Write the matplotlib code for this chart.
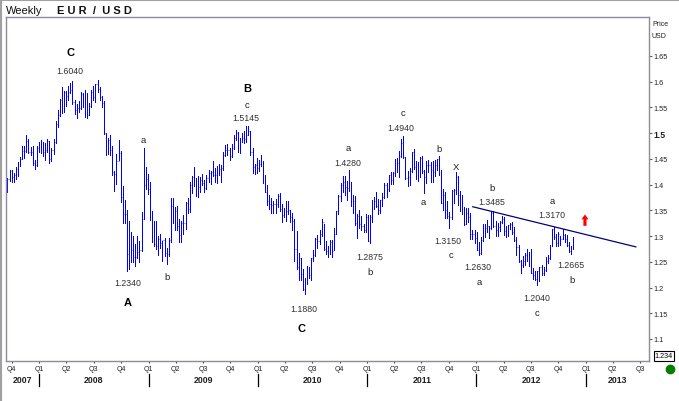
import numpy as np
import pandas as pd
import matplotlib
matplotlib.use('Agg')
import matplotlib.pyplot as plt
import matplotlib.dates as mdates
import matplotlib.transforms as mtransforms
from matplotlib.lines import Line2D

plt.rcParams['font.family'] = ['Liberation Sans', 'DejaVu Sans']

# ---------- weekly EUR/USD bars (week of 17 Sep 2007 .. week of 19 Nov 2012) ----------
first_open = 1.3880

highs = [
    # 2007
    1.4130, 1.4280, 1.4280, 1.4230, 1.4350, 1.4440, 1.4530, 1.4750, 1.4750, 1.4967, 1.4880, 1.4740, 1.4760, 1.4480, 1.4750,
    # 2008
    1.4830, 1.4860, 1.4820, 1.4800, 1.4880, 1.4840, 1.4720, 1.4880, 1.5240, 1.5460,
    1.5670, 1.5900, 1.5820, 1.5820, 1.5910, 1.5980, 1.6018, 1.5650, 1.5560, 1.5620,
    1.5800, 1.5780, 1.5840, 1.5780, 1.5590, 1.5830, 1.5910, 1.5960, 1.6038, 1.5900,
    1.5720, 1.5620, 1.5000, 1.4900, 1.4960, 1.4760, 1.4270, 1.4590, 1.4870, 1.4650,
    1.3980, 1.3700, 1.3500, 1.3300, 1.3080, 1.3000, 1.2850, 1.3000, 1.2900, 1.3460,
    1.4719, 1.4340,
    # 2009
    1.4200, 1.4060, 1.3480, 1.3300, 1.3300, 1.3000, 1.3050, 1.2900, 1.2970, 1.2770,
    1.2960, 1.3740, 1.3740, 1.3570, 1.3580, 1.3340, 1.3290, 1.3410, 1.3660, 1.3740,
    1.4050, 1.4170, 1.4340, 1.4130, 1.4170, 1.4150, 1.4200, 1.4090, 1.4180, 1.4290,
    1.4260, 1.4450, 1.4330, 1.4360, 1.4410, 1.4390, 1.4630, 1.4770, 1.4790, 1.4720,
    1.4790, 1.4960, 1.5060, 1.5030, 1.4900, 1.5010, 1.5040, 1.5145, 1.5140, 1.5050,
    1.4720, 1.4410,
    # 2010
    1.4510, 1.4480, 1.4580, 1.4450, 1.4180, 1.4000, 1.3800, 1.3740, 1.3690, 1.3720,
    1.3810, 1.3830, 1.3620, 1.3550, 1.3690, 1.3680, 1.3510, 1.3450, 1.3330, 1.3090,
    1.2670, 1.2580, 1.2360, 1.2190, 1.2410, 1.2390, 1.2580, 1.2720, 1.2970, 1.3030,
    1.3110, 1.3330, 1.3230, 1.2900, 1.2800, 1.2920, 1.2920, 1.3160, 1.3490, 1.3790,
    1.4030, 1.4160, 1.4160, 1.4070, 1.4282, 1.4060, 1.3790, 1.3770, 1.3430, 1.3510,
    1.3390, 1.3230, 1.3430,
    # 2011
    1.3400, 1.3400, 1.3700, 1.3760, 1.3860, 1.3720, 1.3700, 1.3830, 1.4030, 1.4040,
    1.4190, 1.4250, 1.4250, 1.4490, 1.4520, 1.4650, 1.4880, 1.4940, 1.4530, 1.4260,
    1.4320, 1.4640, 1.4700, 1.4450, 1.4440, 1.4530, 1.4560, 1.4280, 1.4450, 1.4470,
    1.4440, 1.4450, 1.4480, 1.4490, 1.4550, 1.4280, 1.3910, 1.3850, 1.3680, 1.3460,
    1.3890, 1.3910, 1.4247, 1.4160, 1.3880, 1.3790, 1.3560, 1.3550, 1.3550, 1.3440,
    1.3120, 1.3120,
    # 2012
    1.3080, 1.2880, 1.2990, 1.3230, 1.3230, 1.3320, 1.3190, 1.3460, 1.3486, 1.3290,
    1.3260, 1.3300, 1.3390, 1.3380, 1.3200, 1.3220, 1.3260, 1.3280, 1.3170, 1.2990,
    1.2820, 1.2530, 1.2620, 1.2670, 1.2740, 1.2690, 1.2750, 1.2370, 1.2330, 1.2330,
    1.2400, 1.2440, 1.2390, 1.2590, 1.2640, 1.2820, 1.3130, 1.3170, 1.3050, 1.3070,
    1.3010, 1.3140, 1.3050, 1.3020, 1.2890, 1.2800, 1.2980,
]

lows = [
    # 2007
    1.3850, 1.4070, 1.4050, 1.4050, 1.4100, 1.4160, 1.4370, 1.4490, 1.4520, 1.4630, 1.4620, 1.4580, 1.4380, 1.4310, 1.4370,
    # 2008
    1.4640, 1.4620, 1.4560, 1.4480, 1.4640, 1.4430, 1.4460, 1.4600, 1.4800, 1.5120,
    1.5330, 1.5400, 1.5420, 1.5530, 1.5650, 1.5790, 1.5570, 1.5370, 1.5290, 1.5420,
    1.5470, 1.5500, 1.5310, 1.5290, 1.5350, 1.5510, 1.5650, 1.5610, 1.5810, 1.5640,
    1.5500, 1.4980, 1.4580, 1.4600, 1.4580, 1.4190, 1.3880, 1.4010, 1.4480, 1.3670,
    1.3260, 1.3260, 1.2330, 1.2360, 1.2500, 1.2500, 1.2420, 1.2570, 1.2500, 1.2710,
    1.3330, 1.3920,
    # 2009
    1.3820, 1.3320, 1.2880, 1.2810, 1.2750, 1.2630, 1.2760, 1.2510, 1.2620, 1.2460,
    1.2620, 1.2890, 1.3250, 1.3110, 1.3120, 1.2890, 1.2890, 1.3050, 1.3140, 1.3440,
    1.3470, 1.3830, 1.3970, 1.3780, 1.3750, 1.3850, 1.3990, 1.3850, 1.3910, 1.4050,
    1.4010, 1.4160, 1.4050, 1.4040, 1.4190, 1.4060, 1.4280, 1.4550, 1.4580, 1.4480,
    1.4530, 1.4690, 1.4870, 1.4630, 1.4620, 1.4830, 1.4810, 1.4830, 1.4960, 1.4580,
    1.4230, 1.4210,
    # 2010
    1.4220, 1.4260, 1.4370, 1.4030, 1.3850, 1.3600, 1.3530, 1.3440, 1.3440, 1.3440,
    1.3560, 1.3490, 1.3270, 1.3380, 1.3300, 1.3420, 1.3280, 1.3110, 1.2520, 1.2360,
    1.2140, 1.2140, 1.1960, 1.1876, 1.2070, 1.2180, 1.2150, 1.2510, 1.2620, 1.2760,
    1.2840, 1.3010, 1.2730, 1.2660, 1.2590, 1.2660, 1.2590, 1.2720, 1.3040, 1.3420,
    1.3680, 1.3860, 1.3800, 1.3700, 1.3880, 1.3580, 1.3450, 1.3220, 1.2970, 1.3160,
    1.3120, 1.3070, 1.3070,
    # 2011
    1.2900, 1.2873, 1.3270, 1.3530, 1.3560, 1.3430, 1.3450, 1.3580, 1.3740, 1.3750,
    1.3870, 1.4010, 1.4020, 1.4160, 1.4250, 1.4150, 1.4540, 1.4520, 1.4110, 1.3970,
    1.4000, 1.4240, 1.4300, 1.4100, 1.4070, 1.4150, 1.4220, 1.3840, 1.4030, 1.4240,
    1.4050, 1.4050, 1.4170, 1.4280, 1.4180, 1.3650, 1.3500, 1.3360, 1.3360, 1.3150,
    1.3330, 1.3650, 1.3820, 1.3610, 1.3480, 1.3420, 1.3210, 1.3230, 1.3270, 1.2950,
    1.2950, 1.2860,
    # 2012
    1.2720, 1.2624, 1.2660, 1.2900, 1.2980, 1.3080, 1.2970, 1.3140, 1.3180, 1.3000,
    1.3000, 1.3100, 1.3260, 1.3030, 1.2990, 1.3010, 1.3130, 1.3040, 1.2900, 1.2640,
    1.2500, 1.2290, 1.2390, 1.2440, 1.2510, 1.2410, 1.2290, 1.2160, 1.2140, 1.2042,
    1.2130, 1.2240, 1.2240, 1.2330, 1.2470, 1.2560, 1.2810, 1.2950, 1.2800, 1.2800,
    1.2820, 1.2940, 1.2880, 1.2800, 1.2690, 1.2661, 1.2740,
]

closes = [
    # 2007
    1.4100, 1.4260, 1.4140, 1.4180, 1.4300, 1.4410, 1.4500, 1.4650, 1.4650, 1.4850, 1.4630, 1.4640, 1.4420, 1.4380, 1.4720,
    # 2008
    1.4750, 1.4760, 1.4630, 1.4680, 1.4840, 1.4500, 1.4670, 1.4830, 1.5180, 1.5350,
    1.5650, 1.5430, 1.5800, 1.5720, 1.5800, 1.5830, 1.5600, 1.5460, 1.5480, 1.5490,
    1.5760, 1.5550, 1.5760, 1.5360, 1.5530, 1.5800, 1.5700, 1.5950, 1.5860, 1.5700,
    1.5580, 1.5000, 1.4680, 1.4860, 1.4680, 1.4250, 1.4200, 1.4450, 1.4620, 1.3760,
    1.3420, 1.3430, 1.2650, 1.2750, 1.2730, 1.2600, 1.2590, 1.2700, 1.2720, 1.3330,
    1.3990, 1.4100,
    # 2009
    1.3920, 1.3440, 1.3210, 1.2840, 1.2800, 1.2950, 1.2860, 1.2920, 1.2670, 1.2650,
    1.2920, 1.3590, 1.3280, 1.3480, 1.3200, 1.3030, 1.3260, 1.3260, 1.3640, 1.3530,
    1.4000, 1.4150, 1.3970, 1.4000, 1.3960, 1.4090, 1.4030, 1.3940, 1.4120, 1.4220,
    1.4240, 1.4180, 1.4190, 1.4330, 1.4310, 1.4320, 1.4580, 1.4680, 1.4680, 1.4550,
    1.4710, 1.4900, 1.5000, 1.4720, 1.4860, 1.4900, 1.4880, 1.4970, 1.5050, 1.4630,
    1.4340, 1.4380,
    # 2010
    1.4330, 1.4410, 1.4380, 1.4130, 1.3860, 1.3680, 1.3620, 1.3600, 1.3630, 1.3620,
    1.3770, 1.3530, 1.3410, 1.3470, 1.3480, 1.3500, 1.3380, 1.3300, 1.2750, 1.2390,
    1.2570, 1.2270, 1.1970, 1.2130, 1.2390, 1.2240, 1.2570, 1.2640, 1.2940, 1.2900,
    1.3050, 1.3280, 1.2750, 1.2710, 1.2750, 1.2890, 1.2710, 1.3050, 1.3480, 1.3780,
    1.4000, 1.4060, 1.3960, 1.3940, 1.4040, 1.3690, 1.3680, 1.3250, 1.3390, 1.3230,
    1.3190, 1.3120, 1.3380,
    # 2011
    1.2910, 1.3380, 1.3620, 1.3690, 1.3580, 1.3510, 1.3700, 1.3750, 1.3990, 1.3910,
    1.4180, 1.4090, 1.4230, 1.4480, 1.4430, 1.4560, 1.4810, 1.4530, 1.4130, 1.4150,
    1.4270, 1.4630, 1.4350, 1.4310, 1.4200, 1.4520, 1.4260, 1.4150, 1.4390, 1.4390,
    1.4280, 1.4240, 1.4390, 1.4490, 1.4210, 1.3650, 1.3790, 1.3500, 1.3390, 1.3370,
    1.3880, 1.3900, 1.4150, 1.3790, 1.3750, 1.3520, 1.3240, 1.3450, 1.3380, 1.3040,
    1.3050, 1.2960,
    # 2012
    1.2720, 1.2680, 1.2930, 1.3210, 1.3160, 1.3190, 1.3150, 1.3450, 1.3200, 1.3120,
    1.3180, 1.3270, 1.3340, 1.3100, 1.3070, 1.3220, 1.3240, 1.3080, 1.2920, 1.2780,
    1.2510, 1.2430, 1.2520, 1.2640, 1.2570, 1.2660, 1.2290, 1.2240, 1.2160, 1.2320,
    1.2390, 1.2290, 1.2340, 1.2510, 1.2580, 1.2820, 1.3130, 1.2980, 1.2860, 1.3040,
    1.2950, 1.3020, 1.2940, 1.2830, 1.2710, 1.2740, 1.2970,
]

# resistance line
trend_dates = ['2011-12-20', '2013-06-17']
trend_prices = [1.357, 1.279]

# wave counts
wave_texts = ['C', '1.6040', 'a', '1.2340', 'A', 'b', 'B', 'c', '1.5145', '1.1880', 'C',
              'a', '1.4280', '1.2875', 'b', 'c', '1.4940', 'a', 'b', 'X', '1.3150', 'c',
              'b', '1.3485', '1.2630', 'a', '1.2040', 'c', 'a', '1.3170', '1.2665', 'b']
wave_dates = ['2008-04-15', '2008-04-12', '2008-12-13', '2008-10-24', '2008-10-24', '2009-03-04',
              '2009-11-25', '2009-11-24', '2009-11-22', '2010-06-04', '2010-05-28',
              '2010-10-29', '2010-10-27', '2011-01-11', '2011-01-11', '2011-05-01', '2011-04-22',
              '2011-07-09', '2011-08-29', '2011-10-25', '2011-09-28', '2011-10-08',
              '2012-02-22', '2012-02-20', '2012-01-07', '2012-01-09', '2012-07-20', '2012-07-22',
              '2012-09-10', '2012-09-10', '2012-11-13', '2012-11-16']
wave_prices = [1.658, 1.621, 1.488, 1.209, 1.171, 1.222, 1.588, 1.556, 1.531, 1.160, 1.121,
               1.472, 1.443, 1.261, 1.232, 1.541, 1.511, 1.367, 1.470, 1.435, 1.291, 1.265,
               1.394, 1.367, 1.240, 1.211, 1.181, 1.152, 1.369, 1.341, 1.244, 1.216]

signal_date = '2012-12-29'
signal_prices = [1.320, 1.342]

price_ticks = [1.1, 1.15, 1.2, 1.25, 1.3, 1.35, 1.4, 1.45, 1.5, 1.55, 1.6, 1.65]
price_labels = ['1.1', '1.15', '1.2', '1.25', '1.3', '1.35', '1.4', '1.45', '1.5', '1.55', '1.6', '1.65']
years = [2007, 2008, 2009, 2010, 2011, 2012, 2013]

W, H = 679, 402
fig = plt.figure(figsize=(W / 100, H / 100), dpi=100)
fig.patch.set_facecolor('white')
ax = fig.add_axes([6 / W, 40 / H, 643 / W, 344 / H])

x0 = mdates.date2num(pd.Timestamp('2007-09-12'))
x1 = mdates.date2num(pd.Timestamp('2013-07-31'))
ax.set_xlim(x0, x1)
ax.set_ylim(1.0572, 1.7258)

# OHLC bars
weeks = pd.date_range('2007-09-17', periods=len(closes), freq='7D')
x = mdates.date2num(weeks)
opens = [first_open] + closes[:-1]
bar_col = '#0000ff'
ax.vlines(x, lows, highs, color=bar_col, lw=0.68, antialiased=False)
ax.hlines(opens, x - 1.6, x, color=bar_col, lw=0.7, alpha=0.7)
ax.hlines(closes, x, x + 1.6, color=bar_col, lw=0.7, alpha=0.7)

# trend line
ax.plot(mdates.date2num(pd.to_datetime(trend_dates)), trend_prices, color='#000080', lw=0.9)

# wave labels
for t, d, p in zip(wave_texts, wave_dates, wave_prices):
    xd = mdates.date2num(pd.Timestamp(d))
    if t in ('A', 'B', 'C'):
        ax.text(xd, p, t, ha='center', va='center', fontsize=8, fontweight='bold', color='black')
    elif len(t) == 1:
        ax.text(xd, p, t, ha='center', va='center', fontsize=6.8, color='#202020')
    else:
        ax.text(xd, p, t, ha='center', va='center', fontsize=6.3, color='#303030')

# red up arrow
xs = mdates.date2num(pd.Timestamp(signal_date))
ax.annotate('', xy=(xs, signal_prices[1]), xytext=(xs, signal_prices[0]),
            arrowprops=dict(arrowstyle='simple,head_width=1.0,head_length=0.7,tail_width=0.45',
                            color='red', lw=0, mutation_scale=5, shrinkA=0, shrinkB=0))

# frame
for s in ax.spines.values():
    s.set_color('#8c8ca0')
    s.set_linewidth(1.0)

# right price axis
ax.yaxis.tick_right()
ax.set_yticks(price_ticks)
ax.set_yticklabels(price_labels)
ax.tick_params(axis='y', direction='out', length=2.5, width=0.8, color='#606060',
               labelsize=5.2, pad=1, labelcolor='#202020')
for lab in ax.get_yticklabels():
    if lab.get_text() == '1.5':
        lab.set_fontweight('bold')
        lab.set_fontsize(6.2)

# quarters
q_dates = pd.date_range('2007-10-01', '2013-07-01', freq='QS')
ax.set_xticks(mdates.date2num(q_dates))
ax.set_xticklabels(['Q%d' % d.quarter for d in q_dates])
ax.tick_params(axis='x', direction='out', length=1.5, width=0.8, color='#404040',
               labelsize=5, pad=1.5, labelcolor='#202020')

# years row
trans = mtransforms.blended_transform_factory(ax.transData, ax.transAxes)
for yr in years:
    a = max(mdates.date2num(pd.Timestamp('%d-01-01' % yr)), x0)
    b = min(mdates.date2num(pd.Timestamp('%d-01-01' % (yr + 1))), x1)
    ax.text((a + b) / 2, -0.055, str(yr), transform=trans, ha='center', va='center',
            fontsize=6.3, fontweight='bold', color='#202020')
    if yr > 2007:
        xb = mdates.date2num(pd.Timestamp('%d-01-01' % yr))
        ax.plot([xb, xb], [-0.038, -0.073], transform=trans, color='black', lw=0.9, clip_on=False)

# header texts
fig.text(6 / W, 1 - 11 / H, 'Weekly', fontsize=8, va='center', ha='left', color='#101010')
fig.text(57 / W, 1 - 11 / H, 'E U R  /  U S D', fontsize=8, fontweight='bold', va='center',
         ha='left', color='#101010')
fig.text(652 / W, 1 - 25 / H, 'Price', fontsize=5, va='center', ha='left', color='#202020')
fig.text(652 / W, 1 - 36 / H, 'USD', fontsize=5, va='center', ha='left', color='#202020')

# bottom right widgets
fig.text(664 / W, 1 - 357 / H, '1.234', fontsize=5.2, va='center', ha='center', color='black',
         bbox=dict(boxstyle='square,pad=0.15', fc='white', ec='black', lw=0.8))
fig.add_artist(Line2D([670 / W], [1 - 370 / H], marker='o', markersize=6, color='#008000',
                      transform=fig.transFigure))

# outer border
fig.add_artist(Line2D([0.5 / W, 0.5 / W], [0, 1], transform=fig.transFigure, color='#a0a0a0', lw=1.5))
fig.add_artist(Line2D([0, 1], [1 - 0.5 / H, 1 - 0.5 / H], transform=fig.transFigure, color='#a0a0a0', lw=1.5))

fig.savefig('out.png', dpi=100, facecolor='white')
